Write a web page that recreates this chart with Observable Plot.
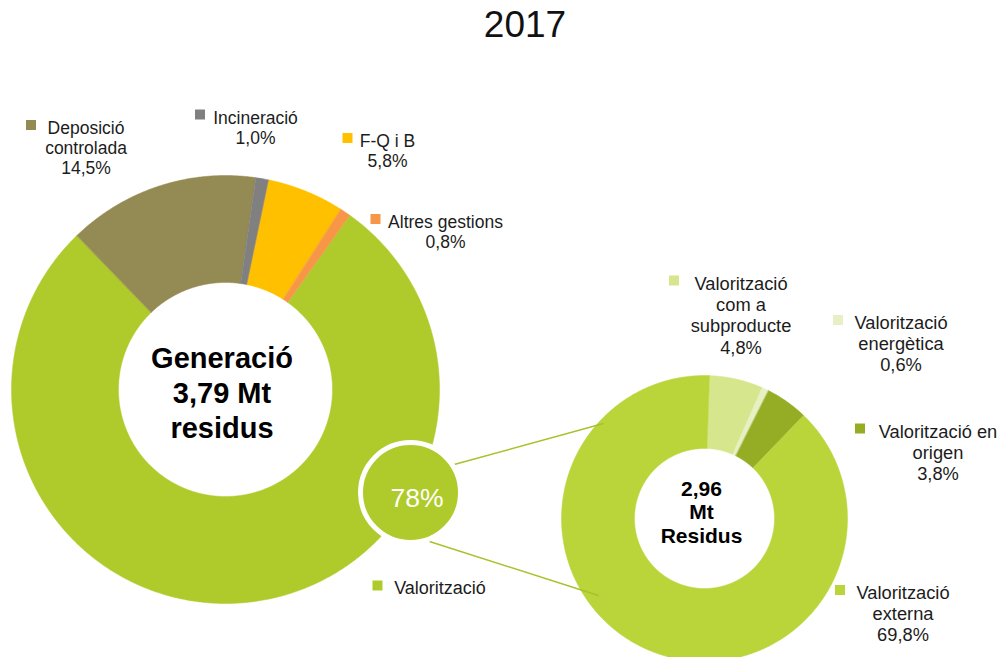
<!DOCTYPE html>
<html>
<head>
<meta charset="utf-8">
<script src="https://cdn.jsdelivr.net/npm/d3@7"></script>
<script src="https://cdn.jsdelivr.net/npm/@observablehq/plot@0.6"></script>
<style>
  html, body { margin: 0; padding: 0; background: #ffffff; }
  body { width: 1003px; height: 657px; overflow: hidden; font-family: "Liberation Sans", Arial, sans-serif; }
  #title { position: relative; height: 50px; }
  #title h1 { position: absolute; left: 525px; top: 6px; transform: translateX(-50%); margin: 0;
              font-size: 37px; line-height: 37px; font-weight: normal; color: #111; white-space: nowrap; }
  #chart svg { display: block; font-family: "Liberation Sans", Arial, sans-serif; }
  #chart svg text { font-family: "Liberation Sans", Arial, sans-serif; }
</style>
</head>
<body>
<div id="title"><h1>2017</h1></div>
<div id="chart"></div>
<script>
// ---------------- DATA ----------------
const year = "2017";
const generationTotal = 3.79;   // Mt residus
const valorizedTotal = 2.96;    // Mt residus

const leftCategories = ["Valorització", "Deposició controlada", "Incineració", "F-Q i B", "Altres gestions"];
const leftLabels     = ["Valorització", "Deposició\ncontrolada", "Incineració", "F-Q i B", "Altres gestions"];
const leftValues     = [78.0, 14.5, 1.0, 5.8, 0.8];
const leftColors     = ["#afcb2b", "#948a54", "#808080", "#ffc000", "#f79646"];

const rightCategories = ["Valorització com a subproducte", "Valorització energètica", "Valorització en origen", "Valorització externa"];
const rightLabels     = ["Valorització\ncom a\nsubproducte", "Valorització\nenergètica", "Valorització en\norigen", "Valorització\nexterna"];
const rightValues     = [4.8, 0.6, 3.8, 69.8];
const rightColors     = ["#d6e68c", "#e6f0c4", "#94ad25", "#b9d53a"];

// ---------------- LAYOUT (page pixel frame) ----------------
const FONT = "Liberation Sans";
const W = 1003, TOP = 50, H = 657 - TOP;
const deg = Math.PI / 180;
const leftPie  = {cx: 225, cy: 389, r0: 107, r1: 214, start: 35.5 * deg};
const rightPie = {cx: 704, cy: 518, r0: 70,  r1: 143, start: 2 * deg};
// [text center x, first baseline y, chip x, chip y, font size]
const leftLabelPos  = [[439.5, 593, 377, 585, 18], [85.5, 133, 30.5, 124.5, 17.5], [255, 123, 199.5, 114, 17.5], [387, 146, 347, 137.5, 17.5], [445, 227, 375, 218.5, 17.5]];
const rightLabelPos = [[740.5, 289, 673.5, 280, 18.3], [900.5, 328, 837.5, 319.5, 18.3], [937.5, 437, 859.5, 428, 18.3], [902.5, 598, 839.5, 589.5, 18.3]];
const zoomCircle = {x: 410, y: 492, r: 50};
const connectors = [{x1: 450, y1: 465, x2: 603, y2: 423}, {x1: 429, y1: 541, x2: 598, y2: 595}];

const fmt = v => d3.format(".1f")(v).replace(".", ",") + "%";

function slicePolygons(cats, vals, p) {
  const arcs = d3.pie().sort(null).value(d => d).startAngle(p.start).endAngle(p.start + 2 * Math.PI)(vals);
  const pts = [];
  arcs.forEach((a, i) => {
    const span = a.endAngle - a.startAngle;
    const n = Math.max(2, Math.ceil(span / (0.4 * deg)));
    for (let k = 0; k <= n; k++) {
      const t = a.startAngle + span * k / n;
      pts.push({cat: cats[i], x: p.cx + p.r1 * Math.sin(t), y: p.cy - p.r1 * Math.cos(t)});
    }
    for (let k = n; k >= 0; k--) {
      const t = a.startAngle + span * k / n;
      pts.push({cat: cats[i], x: p.cx + p.r0 * Math.sin(t), y: p.cy - p.r0 * Math.cos(t)});
    }
  });
  return pts;
}

function labelRows(labels, vals, pos, withPct) {
  const rows = [], chips = [];
  labels.forEach((lab, i) => {
    const [tx, ty, chx, chy, fs] = pos[i];
    const lines = lab.split("\n");
    if (withPct[i]) lines.push(fmt(vals[i]));
    const gap = fs * 1.17;
    lines.forEach((ln, j) => rows.push({x: tx, y: ty + j * gap, text: ln, fs}));
    chips.push({x: chx, y: chy, i});
  });
  return {rows, chips};
}

const leftPoly = slicePolygons(leftCategories, leftValues, leftPie);
const rightPoly = slicePolygons(rightCategories, rightValues, rightPie);
const L = labelRows(leftLabels, leftValues, leftLabelPos, leftValues.map((v, i) => i !== 0));
const R = labelRows(rightLabels, rightValues, rightLabelPos, rightValues.map(() => true));
const chipRows = [
  ...L.chips.map(c => ({...c, cat: leftCategories[c.i]})),
  ...R.chips.map(c => ({...c, cat: rightCategories[c.i]}))
];
const labelTextRows = [...L.rows, ...R.rows];

const genCenter = ["Generació", d3.format(".2f")(generationTotal).replace(".", ",") + " Mt", "residus"];
const valCenter = [d3.format(".2f")(valorizedTotal).replace(".", ","), "Mt", "Residus"];
const centerRows = [
  ...genCenter.map((t, j) => ({x: 221.5, y: 367 + j * 35, text: t, fs: 29})),
  ...valCenter.map((t, j) => ({x: 701, y: 495 + j * 23.5, text: t, fs: 21}))
];

const chart = Plot.plot({
  width: W, height: H,
  marginTop: 0, marginRight: 0, marginBottom: 0, marginLeft: 0,
  style: {fontFamily: FONT, background: "#ffffff", overflow: "visible"},
  x: {domain: [0, W], range: [0, W], axis: null},
  y: {domain: [TOP, TOP + H], range: [0, H], axis: null},
  color: {domain: [...leftCategories, ...rightCategories], range: [...leftColors, ...rightColors]},
  marks: [
    Plot.line(leftPoly, {x: "x", y: "y", z: "cat", fill: "cat", stroke: "cat", strokeWidth: 0.5, curve: "linear-closed"}),
    Plot.line(rightPoly, {x: "x", y: "y", z: "cat", fill: "cat", stroke: "cat", strokeWidth: 0.5, curve: "linear-closed"}),
    Plot.link(connectors, {x1: "x1", y1: "y1", x2: "x2", y2: "y2", stroke: "#a6c22c", strokeWidth: 1.5}),
    Plot.dot([{...zoomCircle, cat: leftCategories[0]}], {x: "x", y: "y", r: zoomCircle.r, fill: "cat", stroke: "#ffffff", strokeWidth: 5}),
    Plot.text([{x: 416.5, y: 506, text: Math.round(leftValues[0]) + "%"}], {x: "x", y: "y", text: "text", fill: "#ffffff", fontFamily: FONT, fontSize: 26.5, textAnchor: "middle", lineAnchor: "bottom"}),
    Plot.dot(chipRows, {x: "x", y: "y", fill: "cat", symbol: "square", r: 10 / Math.sqrt(Math.PI), stroke: null}),
    Plot.text(labelTextRows, {x: "x", y: "y", text: "text", fontFamily: FONT, fontSize: d => d.fs, fill: "#1c1c1c", textAnchor: "middle", lineAnchor: "bottom"}),
    Plot.text(centerRows, {x: "x", y: "y", text: "text", fontFamily: FONT, fontSize: d => d.fs, fontWeight: "bold", fill: "#000000", textAnchor: "middle", lineAnchor: "bottom"})
  ]
});
document.getElementById("chart").appendChild(chart);
</script>
</body>
</html>
